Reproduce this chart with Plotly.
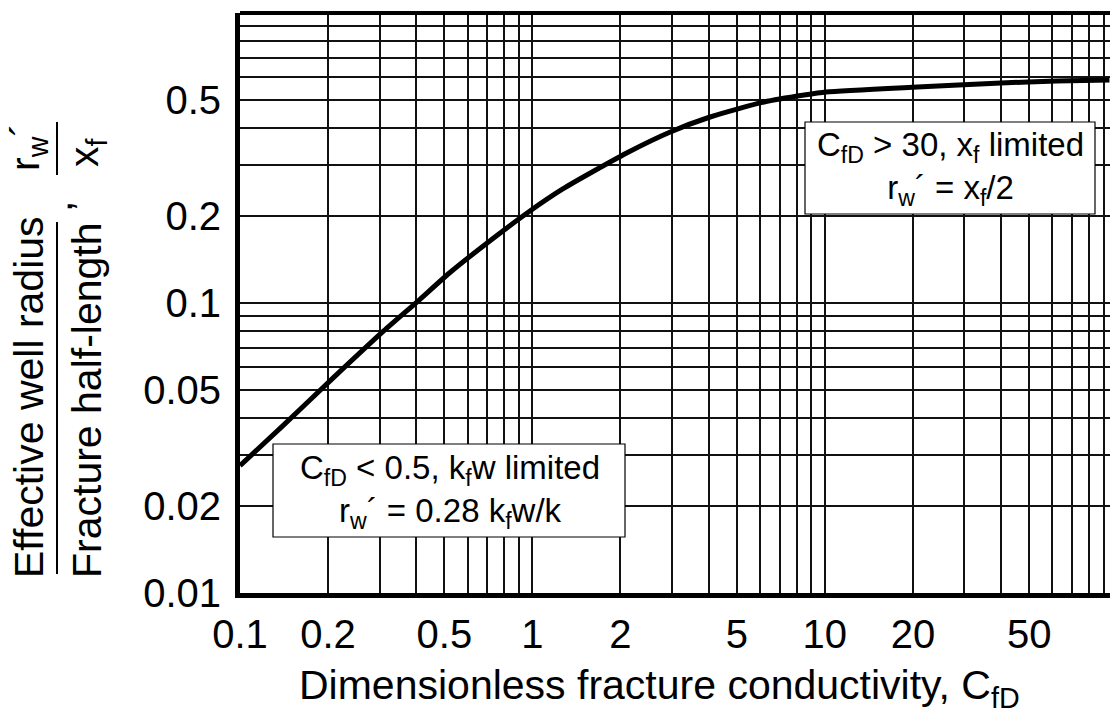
import plotly.graph_objects as go

# Effective wellbore radius vs. dimensionless fracture conductivity
cfd = [0.1, 0.14, 0.21, 0.31, 0.41, 0.52, 0.76, 0.97, 1.27, 2.1, 2.96, 4.05,
       6.2, 8.5, 10.1, 20.7, 40, 62, 94]
rw_over_xf = [0.0275, 0.0377, 0.0556, 0.0801, 0.1024, 0.1269, 0.1716, 0.2060,
              0.2473, 0.3290, 0.3888, 0.4379, 0.4933, 0.5215, 0.5341, 0.5556,
              0.5735, 0.5828, 0.5875]

# log grid: every 1..9 per decade, only some of them labelled
x_grid = [m * 10.0 ** e for e in (-1, 0, 1) for m in range(1, 10)]
x_labels = {0.1: "0.1", 0.2: "0.2", 0.5: "0.5", 1: "1", 2: "2", 5: "5",
            10: "10", 20: "20", 50: "50"}
y_grid = [m * 10.0 ** e for e in (-2, -1) for m in range(1, 10)] + [1.0]
y_labels = {0.01: "0.01", 0.02: "0.02", 0.05: "0.05", 0.1: "0.1",
            0.2: "0.2", 0.5: "0.5"}


def label_for(v, table):
    for k, t in table.items():
        if abs(v - k) < 1e-9 * max(1.0, k):
            return t
    return ""


W, H = 1110, 716
L, R, T, B = 240, 0, 13, 123
PW, PH = W - L - R, H - T - B
FONT = "Liberation Sans, Arial, Helvetica, sans-serif"


def px(x):
    return (x - L) / PW


def py(y):
    return (H - B - y) / PH


fig = go.Figure()
fig.add_trace(go.Scatter(
    x=cfd, y=rw_over_xf, mode="lines",
    line=dict(color="black", width=5, shape="spline", smoothing=0.6),
    showlegend=False, hoverinfo="skip",
))

fig.update_xaxes(
    type="log", range=[-1, 1.975],
    tickmode="array", tickvals=x_grid,
    ticktext=[label_for(v, x_labels) for v in x_grid],
    showgrid=True, gridcolor="#111", gridwidth=1.6,
    showline=True, linecolor="black", linewidth=5,
    ticks="", ticklabelstandoff=2, zeroline=False,
    tickfont=dict(family=FONT, size=40, color="black"),
)
fig.update_yaxes(
    type="log", range=[-2, 0],
    tickmode="array", tickvals=y_grid,
    ticktext=[label_for(v, y_labels) for v in y_grid],
    showgrid=True, gridcolor="#111", gridwidth=1.6,
    showline=True, linecolor="black", linewidth=5,
    ticks="", ticklabelstandoff=6, zeroline=False,
    tickfont=dict(family=FONT, size=40, color="black"),
)

shapes = [
    # top frame line
    dict(type="line", xref="paper", yref="paper", x0=0, x1=1, y0=1, y1=1,
         line=dict(color="black", width=4)),
    # annotation boxes
    dict(type="rect", xref="paper", yref="paper",
         x0=px(805), x1=px(1095), y0=py(214), y1=py(122),
         fillcolor="white", line=dict(color="black", width=1.2)),
    dict(type="rect", xref="paper", yref="paper",
         x0=px(273), x1=px(625), y0=py(537), y1=py(444),
         fillcolor="white", line=dict(color="black", width=1.2)),
    # fraction bars of the y-axis title
    dict(type="line", xref="paper", yref="paper",
         x0=px(57), x1=px(57), y0=py(574), y1=py(222),
         line=dict(color="black", width=2)),
    dict(type="line", xref="paper", yref="paper",
         x0=px(57), x1=px(57), y0=py(175), y1=py(122),
         line=dict(color="black", width=2)),
]
fig.update_layout(shapes=shapes)


def note(text, x, y, size, angle=0):
    fig.add_annotation(
        text=text, xref="paper", yref="paper", x=px(x), y=py(y),
        xanchor="center", yanchor="middle", showarrow=False,
        textangle=angle, font=dict(family=FONT, size=size, color="black"),
    )


# box texts
note("C<sub>fD</sub> &gt; 30, x<sub>f</sub> limited<br>"
     "r<sub>w</sub>\u00b4 = x<sub>f</sub>/2", 950, 168, 33)
note("C<sub>fD</sub> &lt; 0.5, k<sub>f</sub>w limited<br>"
     "r<sub>w</sub>\u00b4 = 0.28 k<sub>f</sub>w/k", 450, 491, 33)

# x-axis title
note("Dimensionless fracture conductivity, C<sub>fD</sub>", 659, 688, 41)

# y-axis title written as two stacked fractions
note("Effective well radius", 29, 397, 41, -90)
note("Fracture half-length", 87, 400, 41, -90)
note(",", 58, 207, 41, -90)
note("r<sub>w</sub>\u00b4", 28, 147, 41, -90)
note("x<sub>f</sub>", 87, 152, 41, -90)

fig.update_layout(
    width=W, height=H,
    margin=dict(l=L, r=R, t=T, b=B, pad=0),
    paper_bgcolor="white", plot_bgcolor="white",
    font=dict(family=FONT, color="black"),
)

fig.write_html("out.html")
